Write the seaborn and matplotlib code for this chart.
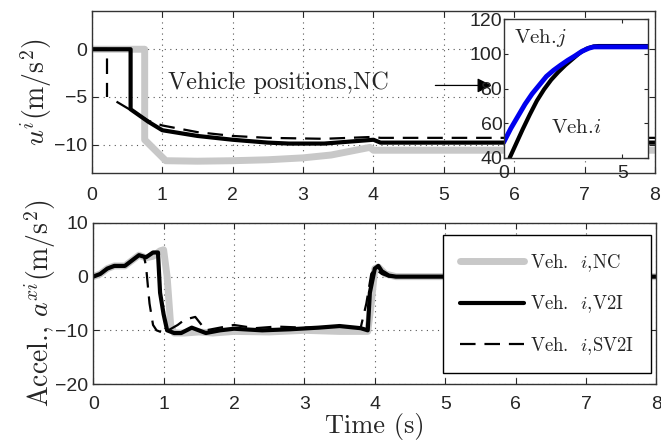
import matplotlib
matplotlib.use("Agg")
import matplotlib.pyplot as plt
import pandas as pd
import seaborn as sns

# top panel: control input u^i
t_u_nc = [0, 0.75, 0.75, 1.05, 1.5, 2.0, 2.5, 3.0, 3.4, 3.95, 4.0, 8.0]
u_nc = [0, 0, -9.5, -11.7, -11.75, -11.7, -11.6, -11.4, -11.1, -10.3, -10.6, -10.6]
t_u_v2i = [0, 0.55, 0.55, 0.8, 1.0, 1.5, 2.0, 2.5, 2.8, 3.3, 4.0, 4.1, 8.0]
u_v2i = [0, 0, -6.3, -7.6, -8.5, -9.1, -9.5, -9.8, -9.9, -9.9, -9.5, -9.8, -9.8]
t_u_sv2i = [0, 0.22, 0.22, 0.35, 0.6, 0.8, 1.0, 1.5, 2.0, 2.5, 3.3, 4.0, 4.1, 8.0]
u_sv2i = [0, 0, -5.0, -5.5, -6.6, -7.5, -8.0, -8.7, -9.1, -9.3, -9.4, -9.2, -9.3, -9.3]
seg_u_sv2i = [0, 0, 0, 1, 1, 1, 1, 1, 1, 1, 1, 1, 1, 1]

# inset: vehicle positions, NC
t_pos_j = [0, 0.3, 0.6, 0.9, 1.2, 1.5, 1.8, 2.1, 2.4, 2.7, 3.0, 3.3, 3.6, 3.8, 4.0, 6.1]
pos_j = [49, 57, 64, 71, 77, 82, 87, 90.5, 93.5, 96.3, 98.8, 101.5, 103.3, 104, 104, 104]
t_pos_i = [0.25, 0.5, 0.8, 1.1, 1.4, 1.7, 2.0, 2.3, 2.6, 2.9, 3.2, 3.5, 3.8, 4.0, 6.1]
pos_i = [40, 47.5, 56.5, 65, 73, 79.5, 85, 89.5, 93.5, 97, 100.5, 103, 104.3, 104.5, 104.5]

# bottom panel: acceleration a^xi
t_a_nc = [0, 0.1, 0.2, 0.3, 0.45, 0.55, 0.65, 0.75, 0.85, 0.95, 1.0, 1.05, 1.1, 1.15,
          1.3, 1.5, 1.7, 2.0, 2.5, 3.0, 3.5, 3.9, 3.95, 4.0, 4.05, 4.15, 4.3, 8.0]
a_nc = [0, 0.5, 1.5, 2, 2, 3, 4, 3.5, 3.8, 4.8, 5, 0, -9, -10.5,
        -10.5, -10.3, -10.5, -10.2, -10.3, -10.0, -10.2, -10.2, -5, 1.5, 1.8, 0.5, 0, 0]
t_a_v2i = [0, 0.1, 0.2, 0.3, 0.45, 0.55, 0.65, 0.75, 0.85, 0.92, 0.95, 1.0, 1.05, 1.15,
           1.25, 1.4, 1.6, 1.8, 2.0, 2.4, 2.8, 3.2, 3.5, 3.8, 3.9, 3.93, 4.0, 4.05, 4.1,
           4.2, 4.3, 8.0]
a_v2i = [0, 0.5, 1.5, 2, 2, 3, 4, 3.6, 4.5, 4.5, -3, -7, -10, -10.5,
         -10.5, -9.5, -10.5, -10, -9.7, -10, -9.8, -9.5, -9.2, -9.6, -10, -3, 1.5, 2, 1,
         0.2, 0, 0]
t_a_sv2i = [0, 0.1, 0.2, 0.3, 0.45, 0.55, 0.65, 0.72, 0.75, 0.8, 0.85, 0.9, 1.0, 1.2,
            1.3, 1.45, 1.6, 1.8, 2.0, 2.3, 2.6, 3.0, 3.3, 3.5, 3.8, 3.88, 3.95, 4.0, 4.1,
            4.2, 4.3, 8.0]
a_sv2i = [0, 0.5, 1.5, 2, 2, 3, 4, 3.8, 2, -5, -9, -10, -10.5, -9,
          -8, -7.5, -10, -9.5, -9, -9.6, -9.3, -9.5, -9.4, -9.2, -9.5, -5, 0.5, 1.5, 0.5,
          0, 0, 0]

labels = ["Veh.  $i$,NC", "Veh.  $i$,V2I", "Veh.  $i$,SV2I"]

sns.set_style("ticks")
plt.rcParams["font.family"] = ["Liberation Sans", "DejaVu Sans"]
plt.rcParams["mathtext.fontset"] = "cm"
plt.rcParams["axes.unicode_minus"] = True
SERIF = "cmr10"

GRAY = "#c8c8c8"
STY = [dict(color=GRAY, lw=5), dict(color="black", lw=3),
       dict(color="black", lw=1.6, ls=(0, (7, 4)))]


def style_axes(ax):
    ax.tick_params(direction="in", top=True, right=True, labelsize=14, length=4)
    ax.tick_params(axis="x", pad=8.5)
    ax.grid(True, ls=(0, (1, 4)), color="#555555", lw=0.8)
    for s in ax.spines.values():
        s.set_linewidth(1.0)
        s.set_color("#333333")


fig = plt.figure(figsize=(6.61, 4.45), dpi=100)
ax1 = fig.add_axes([0.139, 0.611, 0.852, 0.364])
ax2 = fig.add_axes([0.141, 0.137, 0.852, 0.362])
axin = fig.add_axes([0.762, 0.645, 0.219, 0.312])

# top
sns.lineplot(x=t_u_nc, y=u_nc, ax=ax1, estimator=None, sort=False, **STY[0])
sns.lineplot(x=t_u_v2i, y=u_v2i, ax=ax1, estimator=None, sort=False, **STY[1])
df = pd.DataFrame({"t": t_u_sv2i, "v": u_sv2i, "seg": seg_u_sv2i})
sns.lineplot(data=df, x="t", y="v", units="seg", ax=ax1, estimator=None, sort=False, **STY[2])
ax1.set_xlim(0, 8)
ax1.set_ylim(-13, 4)
ax1.set_yticks([-10, -5, 0])
ax1.set_xticks(range(9))
ax1.set_xlabel("")
ax1.set_ylabel(r"$u^i$(m/s$^2$)", fontsize=20, labelpad=0, family=SERIF)
style_axes(ax1)
ax1.tick_params(axis="x", pad=10)
ax1.text(1.08, -3.5, "Vehicle positions,NC", fontsize=17.5, va="center", family=SERIF)
ax1.annotate("", xy=(5.72, -3.8), xytext=(4.84, -3.8),
             arrowprops=dict(arrowstyle="-|>", color="black", lw=0.9, mutation_scale=22))

# inset
sns.lineplot(x=t_pos_i, y=pos_i, ax=axin, color="black", lw=3, estimator=None, sort=False)
sns.lineplot(x=t_pos_j, y=pos_j, ax=axin, color="#0000ee", lw=3.5, estimator=None, sort=False)
axin.set_xlim(0, 6.1)
axin.set_ylim(40, 120)
axin.set_xticks([0, 5])
axin.set_yticks([40, 60, 80, 100, 120])
axin.tick_params(direction="in", top=True, right=True, labelsize=14, length=3, pad=1)
axin.tick_params(axis="x", pad=5)
axin.set_facecolor("white")
for s in axin.spines.values():
    s.set_linewidth(1.0)
    s.set_color("#333333")
axin.text(0.45, 109, "Veh.$j$", fontsize=15, va="center", family=SERIF)
axin.text(2.0, 57, "Veh.$i$", fontsize=15, va="center", family=SERIF)

# bottom
for (t, v), st, lab in zip([(t_a_nc, a_nc), (t_a_v2i, a_v2i), (t_a_sv2i, a_sv2i)], STY, labels):
    sns.lineplot(x=t, y=v, ax=ax2, estimator=None, sort=False, label=lab, **st)
ax2.set_xlim(0, 8)
ax2.set_ylim(-20, 10)
ax2.set_yticks([-20, -10, 0, 10])
ax2.set_xticks(range(9))
ax2.set_xlabel("Time (s)", fontsize=19, labelpad=0, family=SERIF)
ax2.set_ylabel(r"Accel., $a^{xi}$(m/s$^2$)", fontsize=20, labelpad=-2, family=SERIF)
style_axes(ax2)
leg = ax2.legend(loc="upper right", bbox_to_anchor=(0.99, 0.925), borderaxespad=0,
                 prop={"family": SERIF, "size": 13.5}, handlelength=3.4, labelspacing=1.05,
                 borderpad=0.9, handletextpad=0.3, fancybox=False, framealpha=1,
                 edgecolor="black")
leg.get_frame().set_linewidth(1.0)

fig.savefig("out.png", dpi=100)
